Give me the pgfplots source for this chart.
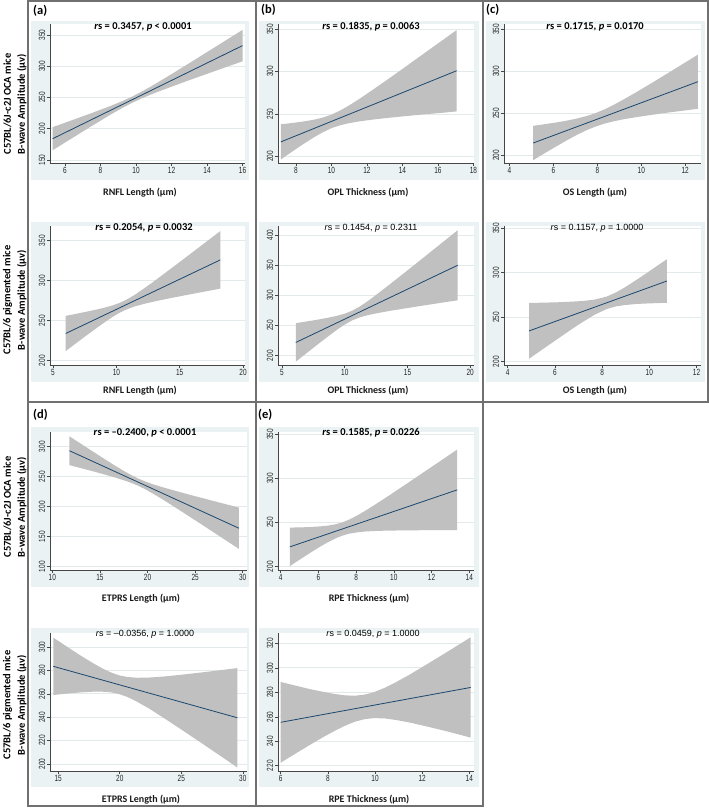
\documentclass[border=0pt]{standalone}
\usepackage{pgfplots}
\pgfplotsset{compat=1.18}
\usepackage{fontspec}
\setmainfont{Carlito}
\newfontfamily\tickfont[FakeStretch=0.72]{Liberation Sans}
\newfontfamily\arialfont{Liberation Sans}

\definecolor{bluebg}{RGB}{234,242,243}
\definecolor{bandgray}{RGB}{192,192,192}
\definecolor{fitnavy}{RGB}{26,71,111}
\definecolor{boxgray}{RGB}{112,112,112}
\definecolor{axgray}{RGB}{70,70,70}
\definecolor{gridc}{RGB}{226,234,236}

\pgfplotsset{
 panel/.style={
  scale only axis, anchor=south west,
  axis x line*=bottom, axis y line*=left,
  axis line style={draw=axgray, line width=0.7pt},
  tick style={draw=axgray, line width=0.6pt},
  tick align=outside, major tick length=3pt,
  ymajorgrids, grid style={draw=gridc, line width=0.8pt},
  axis background/.style={fill=white},
  tick label style={font=\tickfont\fontsize{9}{9}\selectfont, text=black!85},
  xticklabel style={inner sep=1.5pt},
  yticklabel style={rotate=90, anchor=south, inner sep=1.5pt},
  /pgf/number format/assume math mode=true,
 },
 band/.style={fill=bandgray, draw=none},
 fit/.style={draw=fitnavy, line width=0.8pt, mark=none},
}

\newcommand{\boldtitle}[2]{\node[font=\bfseries\fontsize{10.5}{10.5}\selectfont] at (#1) {#2};}
\newcommand{\plaintitle}[2]{\node[font=\arialfont\fontsize{9}{9}\selectfont] at (#1) {#2};}
\newcommand{\xtitle}[2]{\node[font=\bfseries\fontsize{10}{10}\selectfont, text=black!90] at (#1) {#2};}
\newcommand{\ytitle}[2]{\node[rotate=90, font=\bfseries\fontsize{10.5}{10.5}\selectfont] at (#1) {#2};}

\begin{document}
\begin{tikzpicture}[x=1pt,y=1pt]
\useasboundingbox (0,0) rectangle (709,808);
\fill[white] (0,0) rectangle (709,808);

% graph region backgrounds
\fill[bluebg] (31,628) rectangle (249,787);
\fill[bluebg] (259,628) rectangle (479,787);
\fill[bluebg] (486,628) rectangle (705,787);
\fill[bluebg] (31,426) rectangle (249,586);
\fill[bluebg] (259,426) rectangle (479,586);
\fill[bluebg] (486,426) rectangle (705,586);
\fill[bluebg] (31,221) rectangle (249,381);
\fill[bluebg] (259,221) rectangle (479,381);
\fill[bluebg] (31,21) rectangle (249,180);
\fill[bluebg] (259,21) rectangle (479,180);

% ---------- (a) row 1 ----------
\begin{axis}[panel, at={(50pt,645pt)}, width=195pt, height=139pt,
  xmin=5.155, xmax=16.14, ymin=145.2, ymax=367.6,
  xtick={6,8,...,16}, ytick={150,200,...,350}]
\addplot[band] coordinates {(5.3,202.5) (6,209.6) (6.75,217.3) (7.5,225.05) (8.25,233.0) (8.75,238.6) (9.25,244.5) (9.8,251.7) (10.35,259.8) (10.85,267.8) (11.35,276.2) (12.1,289.1) (13,304.9) (14,322.6) (15,340.3) (16,358.1)
 (16,307.9) (15,297.9) (14,287.8) (13,277.7) (12.1,268.3) (11.35,260.4) (10.85,254.8) (10.35,248.9) (9.8,241.7) (9.25,233.6) (8.75,225.6) (8.25,217.2) (7.5,204.25) (6.75,191.1) (6,177.9) (5.3,165.5)} -- cycle;
\addplot[fit] coordinates {(5.3,184) (16,333)};
\end{axis}

% ---------- (b) row 1 ----------
\begin{axis}[panel, at={(278pt,645pt)}, width=196pt, height=139pt,
  xmin=6.99, xmax=18.03, ymin=192.1, ymax=356.2,
  xtick={8,10,...,18}, ytick={200,250,...,350}]
\addplot[band] coordinates {(7.15,237.8) (7.75,239.2) (8.4,241.0) (9,243.15) (9.5,245.6) (10,249.2) (10.5,254.1) (11,260.1) (11.6,268.1) (12.3,278.1) (13.2,291.2) (14.2,306.1) (15.2,321.2) (16.1,334.7) (17.05,349.0)
 (17.05,253.0) (16.1,251.1) (15.2,249.5) (14.2,247.5) (13.2,245.4) (12.3,243.3) (11.6,241.3) (11,239.2) (10.5,236.7) (10,233.2) (9.5,228.2) (9,222.25) (8.4,214.2) (7.75,205.0) (7.15,196.2)} -- cycle;
\addplot[fit] coordinates {(7.15,217) (17.05,301)};
\end{axis}

% ---------- (c) row 1 ----------
\begin{axis}[panel, at={(504pt,645pt)}, width=197pt, height=139pt,
  xmin=3.75, xmax=12.72, ymin=190.8, ymax=356.3,
  xtick={4,6,...,12}, ytick={200,250,...,350}]
\addplot[band] coordinates {(5.08,235.0) (5.6,237.0) (6.1,238.9) (6.6,241.2) (7.05,243.6) (7.5,246.6) (7.9,250.0) (8.3,254.3) (8.75,260.1) (9.2,266.5) (9.8,275.5) (10.5,286.4) (11.3,299.2) (12.0,310.4) (12.58,319.8)
 (12.58,255.4) (12.0,253.4) (11.3,251.1) (10.5,248.2) (9.8,245.5) (9.2,242.9) (8.75,240.5) (8.3,237.5) (7.9,234.0) (7.5,229.8) (7.05,224.0) (6.6,217.6) (6.1,210.1) (5.6,202.4) (5.08,194.2)} -- cycle;
\addplot[fit] coordinates {(5.08,214.6) (12.58,287.6)};
\end{axis}

% ---------- (a) row 2 ----------
\begin{axis}[panel, at={(50pt,443pt)}, width=195pt, height=139pt,
  xmin=4.76, xmax=20.15, ymin=194.6, ymax=368.4,
  xtick={5,10,...,20}, ytick={200,250,...,350}]
\addplot[band] coordinates {(6,256.0) (6.8,258.5) (7.6,261.1) (8.4,263.8) (9.1,266.4) (9.7,269.1) (10.2,271.9) (10.56,274.4) (10.95,277.6) (11.5,282.9) (12.2,290.5) (13.1,300.8) (14.2,313.8) (15.4,328.2) (16.8,345.1) (18.2,362.0)
 (18.2,290.1) (16.8,285.9) (15.4,281.7) (14.2,278.0) (13.1,274.4) (12.2,271.1) (11.5,268.1) (10.95,265.0) (10.56,262.4) (10.2,259.5) (9.7,254.7) (9.1,248.3) (8.4,240.4) (7.6,231.1) (6.8,221.6) (6,212.0)} -- cycle;
\addplot[fit] coordinates {(6,234) (18.2,326)};
\end{axis}

% ---------- (b) row 2 ----------
\begin{axis}[panel, at={(278pt,443pt)}, width=196pt, height=139pt,
  xmin=4.68, xmax=20.3, ymin=184.6, ymax=415.1,
  xtick={5,10,...,20}, ytick={200,250,...,400}]
\addplot[band] coordinates {(6.1,253.9) (7,256.9) (7.9,260.0) (8.7,263.1) (9.4,266.2) (10,269.7) (10.6,274.7) (11.2,281.6) (11.8,290.0) (12.6,302.4) (13.6,318.5) (14.8,338.2) (16.1,359.7) (17.5,383.0) (19,408.1)
 (19,291.9) (17.5,287.2) (16.1,282.7) (14.8,278.4) (13.6,274.4) (12.6,270.6) (11.8,267.1) (11.2,263.6) (10.6,258.7) (10,251.7) (9.4,243.3) (8.7,232.5) (7.9,219.7) (7,205.0) (6.1,190.2)} -- cycle;
\addplot[fit] coordinates {(6.1,222) (19,350)};
\end{axis}

% ---------- (c) row 2 ----------
\begin{axis}[panel, at={(504pt,443pt)}, width=197pt, height=139pt,
  xmin=3.84, xmax=12.19, ymin=196.3, ymax=352.6,
  xtick={4,6,...,12}, ytick={200,250,...,350}]
\addplot[band] coordinates {(4.9,266.0) (5.5,266.4) (6.1,266.8) (6.7,267.5) (7.2,268.3) (7.7,269.9) (8.2,273.3) (8.6,278.1) (9.0,284.2) (9.45,291.9) (9.9,299.9) (10.35,308.1) (10.74,315.2)
 (10.74,266.2) (10.35,265.9) (9.9,265.5) (9.45,264.9) (9.0,263.8) (8.6,262.3) (8.2,259.3) (7.7,253.1) (7.2,245.1) (6.7,236.4) (6.1,225.4) (5.5,214.4) (4.9,203.3)} -- cycle;
\addplot[fit] coordinates {(4.9,234.6) (10.74,290.7)};
\end{axis}

% ---------- (d) row 1 ----------
\begin{axis}[panel, at={(50pt,238pt)}, width=197pt, height=138pt,
  xmin=9.76, xmax=30.45, ymin=94.5, ymax=324.5,
  xtick={10,15,...,30}, ytick={100,150,...,300}]
\addplot[band] coordinates {(11.8,317.3) (13,304.9) (14.2,292.6) (15.4,280.3) (16.5,269.3) (17.5,259.7) (18.3,252.6) (19.04,246.8) (19.8,241.8) (20.6,237.2) (21.6,232.4) (22.8,227.0) (24.2,220.9) (25.8,214.2) (27.6,206.7) (29.6,198.5)
 (29.6,129.7) (27.6,150.5) (25.8,169.2) (24.2,185.7) (22.8,200.0) (21.6,212.0) (20.6,221.6) (19.8,228.8) (19.04,234.8) (18.3,239.7) (17.5,244.1) (16.5,249.1) (15.4,254.1) (14.2,259.3) (13,264.3) (11.8,269.3)} -- cycle;
\addplot[fit] coordinates {(11.8,293.3) (29.6,164.1)};
\end{axis}

% ---------- (e) row 1 ----------
\begin{axis}[panel, at={(278pt,238pt)}, width=196pt, height=138pt,
  xmin=3.86, xmax=14.25, ymin=196.3, ymax=352.5,
  xtick={4,6,...,14}, ytick={200,250,...,350}]
\addplot[band] coordinates {(4.49,244.3) (5.0,244.5) (5.55,244.9) (6.05,245.6) (6.5,246.5) (6.9,248.0) (7.26,250.1) (7.65,253.5) (8.05,257.9) (8.5,263.5) (9.05,270.9) (9.7,279.9) (10.5,291.3) (11.4,304.3) (12.4,318.7) (13.36,332.6)
 (13.36,241.4) (12.4,241.3) (11.4,241.3) (10.5,241.1) (9.7,240.9) (9.05,240.5) (8.5,239.9) (8.05,238.9) (7.65,237.5) (7.26,235.1) (6.9,232.0) (6.5,227.7) (6.05,222.2) (5.55,215.5) (5.0,207.9) (4.49,200.7)} -- cycle;
\addplot[fit] coordinates {(4.49,222.5) (13.36,287)};
\end{axis}

% ---------- (d) row 2 ----------
\begin{axis}[panel, at={(50pt,37pt)}, width=197pt, height=138pt,
  xmin=14.33, xmax=30.34, ymin=194, ymax=312,
  xtick={15,20,...,30}, ytick={200,220,...,300}]
\addplot[band] coordinates {(14.6,308.0) (15.7,300.4) (16.8,292.8) (17.8,286.4) (18.6,281.6) (19.3,278.2) (19.94,275.8) (20.6,274.4) (21.4,273.7) (22.4,273.9) (23.6,274.8) (25,276.3) (26.6,278.2) (28.1,280.1) (29.56,282.0)
 (29.56,197.0) (28.1,207.5) (26.6,218.2) (25,229.5) (23.6,239.2) (22.4,247.3) (21.4,253.3) (20.6,257.4) (19.94,259.8) (19.3,261.2) (18.6,261.8) (17.8,261.8) (16.8,261.2) (15.7,260.2) (14.6,259.0)} -- cycle;
\addplot[fit] coordinates {(14.6,283.5) (29.56,239.5)};
\end{axis}

% ---------- (e) row 2 ----------
\begin{axis}[panel, at={(278pt,37pt)}, width=196pt, height=138pt,
  xmin=5.885, xmax=14.2, ymin=215.7, ymax=328.5,
  xtick={6,8,...,14}, ytick={220,240,...,320}]
\addplot[band] coordinates {(6,288.5) (6.6,285.6) (7.2,282.8) (7.8,280.4) (8.3,278.6) (8.75,277.5) (9.15,277.2) (9.56,278.1) (9.95,280.1) (10.4,283.6) (10.9,288.4) (11.5,294.8) (12.2,302.9) (13.1,313.5) (14.06,325.0)
 (14.06,243.0) (13.1,247.9) (12.2,252.1) (11.5,255.2) (10.9,257.4) (10.4,258.7) (9.95,258.9) (9.56,258.1) (9.15,256.0) (8.75,252.9) (8.3,248.6) (7.8,243.4) (7.2,236.6) (6.6,229.6) (6,222.5)} -- cycle;
\addplot[fit] coordinates {(6,255.5) (14.06,284)};
\end{axis}

% ---------- titles ----------
\boldtitle{143,781}{\textit{r}s = 0.3457, \textit{p} < 0.0001}
\boldtitle{371,781}{\textit{r}s = 0.1835, \textit{p} = 0.0063}
\boldtitle{595,781}{\textit{r}s = 0.1715, \textit{p} = 0.0170}
\boldtitle{144,580}{\textit{r}s = 0.2054, \textit{p} = 0.0032}
\plaintitle{371,580}{\textit{r}s = 0.1454, \textit{p} = 0.2311}
\plaintitle{597,580}{\textit{r}s = 0.1157, \textit{p} = 1.0000}
\boldtitle{145,375}{\textit{r}s = –0.2400, \textit{p} < 0.0001}
\boldtitle{371,375}{\textit{r}s = 0.1585, \textit{p} = 0.0226}
\plaintitle{145,174}{\textit{r}s = –0.0356, \textit{p} = 1.0000}
\plaintitle{373,174}{\textit{r}s = 0.0459, \textit{p} = 1.0000}

% ---------- x titles ----------
\xtitle{140,615}{RNFL Length (μm)}
\xtitle{368,615}{OPL Thickness (μm)}
\xtitle{595,615}{OS Length (μm)}
\xtitle{140,417}{RNFL Length (μm)}
\xtitle{368,417}{OPL Thickness (μm)}
\xtitle{595,417}{OS Length (μm)}
\xtitle{141,209}{ETPRS Length (μm)}
\xtitle{369,209}{RPE Thickness (μm)}
\xtitle{141,8}{ETPRS Length (μm)}
\xtitle{369,8}{RPE Thickness (μm)}

% ---------- y titles ----------
\ytitle{7.5,704}{C57BL/6J-c2J OCA mice}
\ytitle{21.7,704}{B-wave Amplitude (μv)}
\ytitle{7.5,508}{C57BL/6 pigmented mice}
\ytitle{21.7,508}{B-wave Amplitude (μv)}
\ytitle{7.5,301}{C57BL/6J-c2J OCA mice}
\ytitle{21.7,301}{B-wave Amplitude (μv)}
\ytitle{7.5,103}{C57BL/6 pigmented mice}
\ytitle{21.7,103}{B-wave Amplitude (μv)}

% ---------- panel labels ----------
\node[anchor=west, inner sep=0pt, font=\bfseries\fontsize{12.5}{12.5}\selectfont] at (33,797) {(a)};
\node[anchor=west, inner sep=0pt, font=\bfseries\fontsize{12.5}{12.5}\selectfont] at (261,798) {(b)};
\node[anchor=west, inner sep=0pt, font=\bfseries\fontsize{12.5}{12.5}\selectfont] at (486,798) {(c)};
\node[anchor=west, inner sep=0pt, font=\bfseries\fontsize{12.5}{12.5}\selectfont] at (33,393) {(d)};
\node[anchor=west, inner sep=0pt, font=\bfseries\fontsize{12.5}{12.5}\selectfont] at (258,393) {(e)};

% ---------- frames ----------
\draw[boxgray, line width=1.8pt] (28,406) rectangle (708,807);
\draw[boxgray, line width=1.8pt] (256,406) -- (256,807) (483,406) -- (483,807);
\draw[boxgray, line width=1.8pt] (28,2) rectangle (483,406);
\draw[boxgray, line width=1.8pt] (256,2) -- (256,406);
\end{tikzpicture}
\end{document}
